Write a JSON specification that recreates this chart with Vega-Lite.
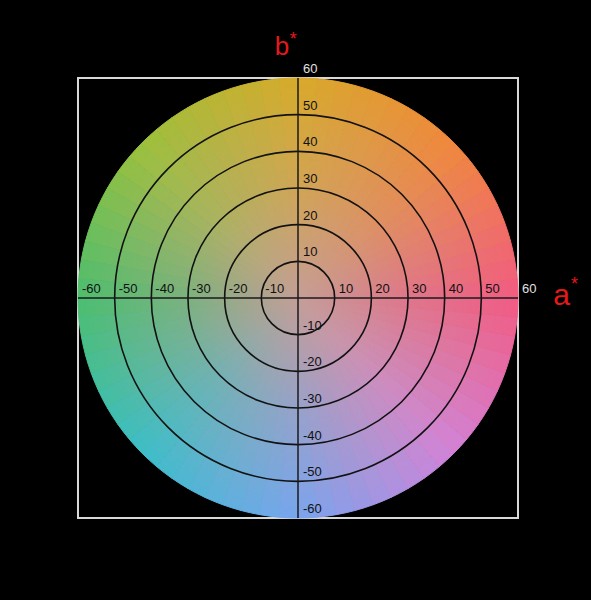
{
  "$schema": "https://vega.github.io/schema/vega-lite/v6.json",
  "autosize": "none",
  "width": 440,
  "height": 440,
  "padding": {"left": 78, "top": 78, "right": 73, "bottom": 82},
  "background": "#000000",
  "config": {"view": {"stroke": "#d8d8d8", "strokeWidth": 2}, "text": {"font": "Liberation Sans"}},
  "data": {"values": [{}]},
  "datasets": {
    "wedges": [
      {"h":2.5,"h0":0,"h1":5},{"h":7.5,"h0":5,"h1":10},{"h":12.5,"h0":10,"h1":15},{"h":17.5,"h0":15,"h1":20},
      {"h":22.5,"h0":20,"h1":25},{"h":27.5,"h0":25,"h1":30},{"h":32.5,"h0":30,"h1":35},{"h":37.5,"h0":35,"h1":40},
      {"h":42.5,"h0":40,"h1":45},{"h":47.5,"h0":45,"h1":50},{"h":52.5,"h0":50,"h1":55},{"h":57.5,"h0":55,"h1":60},
      {"h":62.5,"h0":60,"h1":65},{"h":67.5,"h0":65,"h1":70},{"h":72.5,"h0":70,"h1":75},{"h":77.5,"h0":75,"h1":80},
      {"h":82.5,"h0":80,"h1":85},{"h":87.5,"h0":85,"h1":90},{"h":92.5,"h0":90,"h1":95},{"h":97.5,"h0":95,"h1":100},
      {"h":102.5,"h0":100,"h1":105},{"h":107.5,"h0":105,"h1":110},{"h":112.5,"h0":110,"h1":115},{"h":117.5,"h0":115,"h1":120},
      {"h":122.5,"h0":120,"h1":125},{"h":127.5,"h0":125,"h1":130},{"h":132.5,"h0":130,"h1":135},{"h":137.5,"h0":135,"h1":140},
      {"h":142.5,"h0":140,"h1":145},{"h":147.5,"h0":145,"h1":150},{"h":152.5,"h0":150,"h1":155},{"h":157.5,"h0":155,"h1":160},
      {"h":162.5,"h0":160,"h1":165},{"h":167.5,"h0":165,"h1":170},{"h":172.5,"h0":170,"h1":175},{"h":177.5,"h0":175,"h1":180},
      {"h":182.5,"h0":180,"h1":185},{"h":187.5,"h0":185,"h1":190},{"h":192.5,"h0":190,"h1":195},{"h":197.5,"h0":195,"h1":200},
      {"h":202.5,"h0":200,"h1":205},{"h":207.5,"h0":205,"h1":210},{"h":212.5,"h0":210,"h1":215},{"h":217.5,"h0":215,"h1":220},
      {"h":222.5,"h0":220,"h1":225},{"h":227.5,"h0":225,"h1":230},{"h":232.5,"h0":230,"h1":235},{"h":237.5,"h0":235,"h1":240},
      {"h":242.5,"h0":240,"h1":245},{"h":247.5,"h0":245,"h1":250},{"h":252.5,"h0":250,"h1":255},{"h":257.5,"h0":255,"h1":260},
      {"h":262.5,"h0":260,"h1":265},{"h":267.5,"h0":265,"h1":270},{"h":272.5,"h0":270,"h1":275},{"h":277.5,"h0":275,"h1":280},
      {"h":282.5,"h0":280,"h1":285},{"h":287.5,"h0":285,"h1":290},{"h":292.5,"h0":290,"h1":295},{"h":297.5,"h0":295,"h1":300},
      {"h":302.5,"h0":300,"h1":305},{"h":307.5,"h0":305,"h1":310},{"h":312.5,"h0":310,"h1":315},{"h":317.5,"h0":315,"h1":320},
      {"h":322.5,"h0":320,"h1":325},{"h":327.5,"h0":325,"h1":330},{"h":332.5,"h0":330,"h1":335},{"h":337.5,"h0":335,"h1":340},
      {"h":342.5,"h0":340,"h1":345},{"h":347.5,"h0":345,"h1":350},{"h":352.5,"h0":350,"h1":355},{"h":357.5,"h0":355,"h1":360}
    ],
    "rings": [{"r": 10}, {"r": 20}, {"r": 30}, {"r": 40}, {"r": 50}],
    "ticks": [
      {"t": -60}, {"t": -50}, {"t": -40}, {"t": -30}, {"t": -20}, {"t": -10},
      {"t": 10}, {"t": 20}, {"t": 30}, {"t": 40}, {"t": 50}, {"t": 60}
    ]
  },
  "layer": [
    {
      "data": {"name": "wedges"},
      "mark": {"type": "arc", "strokeWidth": 1},
      "encoding": {
        "theta": {"field": "h0", "type": "quantitative", "stack": null,
          "scale": {"domain": [0, 360], "range": [1.5708, -4.7124]}},
        "theta2": {"field": "h1"},
        "radius": {"datum": 60, "type": "quantitative", "stack": null,
          "scale": {"type": "linear", "domain": [0, 60], "range": [0, 220], "zero": true}},
        "color": {"field": "h", "type": "quantitative", "legend": null,
          "scale": {"domain": [0, 45, 90, 135, 180, 225, 270, 315, 360],
            "range": ["#f25a82", "#f0873c", "#d8aa2a", "#9cc03c", "#4cbe6e", "#3cbec8", "#78a5ee", "#d282d8", "#f25a82"],
            "interpolate": "rgb"}},
        "stroke": {"field": "h", "type": "quantitative", "legend": null,
          "scale": {"domain": [0, 45, 90, 135, 180, 225, 270, 315, 360],
            "range": ["#f25a82", "#f0873c", "#d8aa2a", "#9cc03c", "#4cbe6e", "#3cbec8", "#78a5ee", "#d282d8", "#f25a82"],
            "interpolate": "rgb"}}
      }
    },
    {
      "mark": {"type": "arc", "theta": 0, "theta2": 6.2832,
        "fill": {"gradient": "radial", "x1": 0.5, "y1": 0.5, "r1": 0, "x2": 0.5, "y2": 0.5, "r2": 0.5,
          "stops": [{"offset": 0, "color": "rgba(196,158,150,1)"}, {"offset": 0.5, "color": "rgba(196,158,150,0.4)"}, {"offset": 1, "color": "rgba(196,158,150,0)"}]}},
      "encoding": {
        "radius": {"datum": 60, "type": "quantitative", "stack": null,
          "scale": {"type": "linear", "domain": [0, 60], "range": [0, 220], "zero": true}}
      }
    },
    {
      "data": {"name": "rings"},
      "mark": {"type": "arc", "theta": 0, "theta2": 6.2832, "filled": false, "stroke": "#121212", "strokeWidth": 1.6},
      "encoding": {
        "radius": {"field": "r", "type": "quantitative", "stack": null,
          "scale": {"type": "linear", "domain": [0, 60], "range": [0, 220], "zero": true}}
      }
    },
    {
      "mark": {"type": "rule", "color": "#1a1a1a", "strokeWidth": 1.5},
      "encoding": {
        "x": {"datum": -60, "type": "quantitative", "scale": {"domain": [-60, 60], "nice": false, "zero": false}, "axis": null},
        "x2": {"datum": 60},
        "y": {"datum": 0, "type": "quantitative", "scale": {"domain": [-60, 60], "nice": false, "zero": false}, "axis": null}
      }
    },
    {
      "mark": {"type": "rule", "color": "#1a1a1a", "strokeWidth": 1.5},
      "encoding": {
        "y": {"datum": -60, "type": "quantitative"},
        "y2": {"datum": 60},
        "x": {"datum": 0, "type": "quantitative"}
      }
    },
    {
      "data": {"name": "ticks"},
      "mark": {"type": "text", "align": "left", "baseline": "alphabetic", "dx": 4, "dy": -5, "fontSize": 13},
      "encoding": {
        "x": {"field": "t", "type": "quantitative"},
        "y": {"datum": 0, "type": "quantitative"},
        "text": {"field": "t"},
        "color": {"condition": {"test": "datum.t == 60", "value": "#e0e0e0"}, "value": "#111111"}
      }
    },
    {
      "data": {"name": "ticks"},
      "mark": {"type": "text", "align": "left", "baseline": "alphabetic", "dx": 5, "dy": -5, "fontSize": 13},
      "encoding": {
        "y": {"field": "t", "type": "quantitative"},
        "x": {"datum": 0, "type": "quantitative"},
        "text": {"field": "t"},
        "color": {"condition": {"test": "datum.t == 60", "value": "#e0e0e0"}, "value": "#111111"}
      }
    },
    {
      "mark": {"type": "text", "text": "b", "align": "center", "baseline": "alphabetic", "fontSize": 26, "color": "#e31a1c"},
      "encoding": {"x": {"datum": -4.4, "type": "quantitative"}, "y": {"datum": 66.3, "type": "quantitative"}}
    },
    {
      "mark": {"type": "text", "text": "*", "align": "center", "baseline": "alphabetic", "fontSize": 18, "color": "#e31a1c"},
      "encoding": {"x": {"datum": -1.3, "type": "quantitative"}, "y": {"datum": 69.1, "type": "quantitative"}}
    },
    {
      "mark": {"type": "text", "text": "a", "align": "center", "baseline": "alphabetic", "fontSize": 30, "color": "#e31a1c"},
      "encoding": {"x": {"datum": 71.9, "type": "quantitative"}, "y": {"datum": -1.9, "type": "quantitative"}}
    },
    {
      "mark": {"type": "text", "text": "*", "align": "center", "baseline": "alphabetic", "fontSize": 18, "color": "#e31a1c"},
      "encoding": {"x": {"datum": 75.4, "type": "quantitative"}, "y": {"datum": 2.05, "type": "quantitative"}}
    }
  ]
}
